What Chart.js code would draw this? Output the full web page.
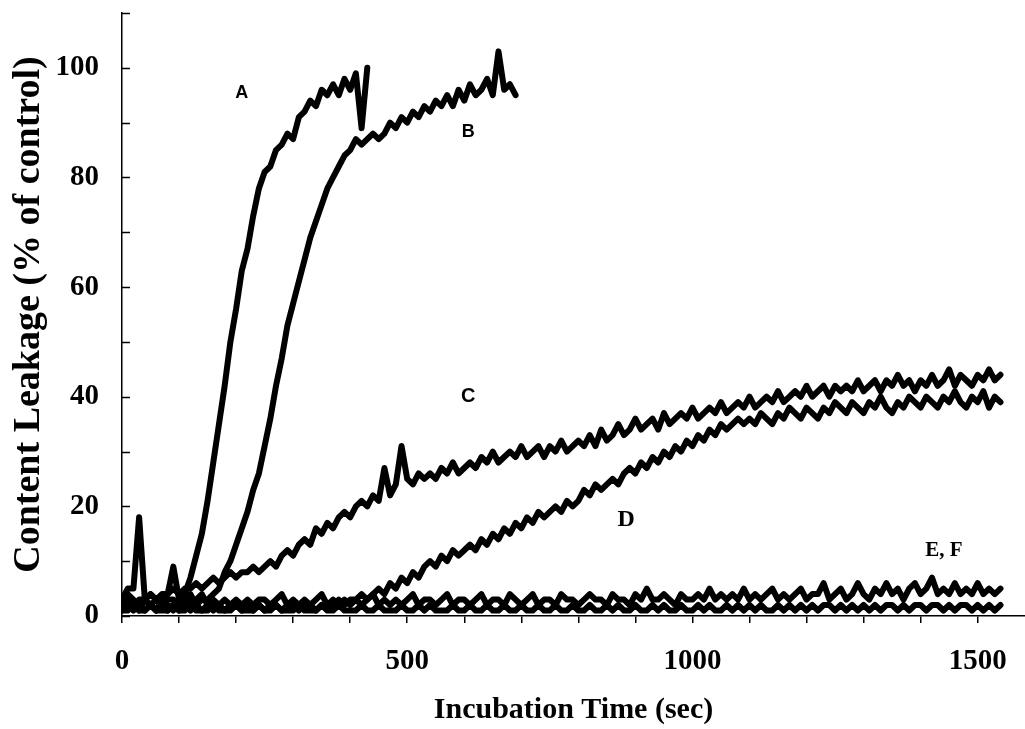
<!DOCTYPE html>
<html>
<head>
<meta charset="utf-8">
<script src="https://cdn.jsdelivr.net/npm/chart.js@4/dist/chart.umd.min.js"></script>
<style>
  html, body { margin: 0; padding: 0; background: #fff; }
  canvas { display: block; }
</style>
</head>
<body>
<canvas id="leak" width="1025" height="729"></canvas>
<script>
// =======================
// Data (one sample per 10 s)
// =======================
const times = [
  0,10,20,30,40,50,60,70,80,90,
  100,110,120,130,140,150,160,170,180,190,
  200,210,220,230,240,250,260,270,280,290,
  300,310,320,330,340,350,360,370,380,390,
  400,410,420,430,440,450,460,470,480,490,
  500,510,520,530,540,550,560,570,580,590,
  600,610,620,630,640,650,660,670,680,690,
  700,710,720,730,740,750,760,770,780,790,
  800,810,820,830,840,850,860,870,880,890,
  900,910,920,930,940,950,960,970,980,990,
  1000,1010,1020,1030,1040,1050,1060,1070,1080,1090,
  1100,1110,1120,1130,1140,1150,1160,1170,1180,1190,
  1200,1210,1220,1230,1240,1250,1260,1270,1280,1290,
  1300,1310,1320,1330,1340,1350,1360,1370,1380,1390,
  1400,1410,1420,1430,1440,1450,1460,1470,1480,1490,
  1500,1510,1520,1530,1540
];

// A: fast leakage, run stops at ~430 s
const seriesA = [
  2,4,3,2,3,4,3,2,4,9,
  3,4,7,11,15,21,28,35,42,50,
  56,63,67,73,78,81,82,85,86,88,
  87,91,92,94,93,96,95,97,95,98,
  96,99,89,100
];

// B: run stops at ~690 s
const seriesB = [
  1,3,2,1,3,2,1,3,2,1,
  3,2,4,2,3,3,4,5,8,10,
  13,16,19,23,26,31,36,42,47,53,
  57,61,65,69,72,75,78,80,82,84,
  85,87,86,87,88,87,88,90,89,91,
  90,92,91,93,92,94,93,95,93,96,
  94,97,95,96,98,95,103,96,97,95
];

const seriesC = [
  2,3,2,3,3,4,3,4,4,5,
  4,5,5,6,5,6,7,6,7,8,
  7,8,8,9,8,9,10,9,11,12,
  11,13,14,13,16,15,17,16,18,19,
  18,20,21,20,22,21,27,22,24,31,
  25,24,26,25,26,25,27,26,28,26,
  27,28,27,29,28,30,28,29,30,29,
  31,29,30,31,29,31,30,32,30,31,
  32,31,33,31,34,32,33,35,33,34,
  36,34,35,36,34,37,35,36,37,36,
  38,36,37,38,37,39,37,38,39,38,
  40,38,39,40,39,41,39,40,41,40,
  42,40,41,42,40,42,41,42,41,43,
  41,42,43,41,43,42,44,42,43,41,
  43,42,44,42,43,45,42,44,43,42,
  44,43,45,43,44
];

const seriesD = [
  1,2,1,2,1,2,1,2,1,2,
  1,2,1,2,1,2,1,2,1,2,
  2,1,2,1,2,1,2,2,1,2,
  2,1,2,2,1,2,2,2,3,2,
  3,3,4,3,4,5,4,6,5,7,
  6,8,7,9,10,9,11,10,12,11,
  12,13,12,14,13,15,14,16,15,17,
  16,18,17,19,18,19,20,19,21,20,
  21,23,22,24,23,24,25,24,26,27,
  26,28,27,29,28,30,29,31,30,32,
  31,33,32,34,33,35,34,35,36,35,
  36,35,37,36,35,37,36,38,37,36,
  38,37,36,38,37,39,38,37,39,38,
  37,39,38,40,38,37,39,38,40,39,
  38,40,39,38,40,39,41,39,38,40,
  39,41,38,40,39
];

const seriesE = [
  3,5,5,18,3,2,3,2,3,3,
  2,3,2,3,4,2,3,2,3,2,
  3,2,3,2,3,3,2,3,4,2,
  3,2,3,2,3,4,2,3,2,3,
  2,3,2,3,4,2,3,2,3,2,
  3,4,2,3,3,2,3,4,2,3,
  3,2,3,4,2,3,3,2,4,3,
  2,3,4,2,3,3,2,4,3,3,
  2,3,4,3,3,2,4,3,3,2,
  4,3,5,3,3,4,3,2,4,3,
  3,4,3,5,3,4,3,4,3,5,
  3,4,3,4,5,3,4,3,4,5,
  3,4,4,6,3,4,5,3,4,6,
  4,3,5,4,6,4,5,3,5,6,
  4,5,7,4,5,4,6,4,5,4,
  6,4,5,4,5
];

const seriesF = [
  1,1,2,1,1,2,1,1,1,2,
  1,1,2,1,1,1,2,1,1,1,
  2,1,1,1,2,1,1,2,1,1,
  1,2,1,1,1,2,1,1,2,1,
  1,1,2,1,1,2,1,1,1,2,
  1,1,2,1,2,1,1,1,2,1,
  1,2,1,1,2,1,1,2,1,1,
  2,1,1,2,1,1,2,1,1,2,
  1,1,2,1,1,2,1,2,1,1,
  2,1,1,2,1,2,1,1,2,1,
  1,2,1,2,1,1,2,1,2,1,
  2,1,2,1,1,2,1,2,1,2,
  1,2,1,2,2,1,2,1,2,1,
  2,1,2,1,2,2,1,2,1,2,
  2,1,2,2,1,2,1,2,2,1,
  2,1,2,1,2
];

// curve letters, placed in data units
const curveLabels = ['A', 'B', 'C', 'D', 'E, F'];
const labelTimes = [210, 607, 607, 884, 1441];
const labelLevels = [95.4, 88.3, 40.1, 17.5, 11.9];

// =======================
// Helpers
// =======================
function toPoints(vals){ return vals.map((v,i)=>({ x: times[i], y: v })); }
function trace(label, vals){
  return { label, data: toPoints(vals), borderColor: '#000', borderWidth: 6,
           pointRadius: 0, tension: 0, borderJoinStyle: 'round', borderCapStyle: 'round', fill: false };
}

const SERIF = '"Liberation Serif", "Times New Roman", serif';
const SANS = '"Liberation Sans", Arial, sans-serif';
const labelFonts = ['bold 18px '+SANS, 'bold 18px '+SANS, 'bold 20px '+SANS,
                    'bold 24px '+SERIF, 'bold 21px '+SERIF];

// inward ticks on the y axis + curve letters
const extras = {
  id: 'extras',
  afterDatasetsDraw(chart){
    const { ctx, scales: { x, y } } = chart;
    ctx.save();
    ctx.strokeStyle = '#000';
    ctx.lineWidth = 1.5;
    y.ticks.forEach(t => {
      const py = Math.round(y.getPixelForValue(t.value)) + 0.5;
      ctx.beginPath(); ctx.moveTo(y.right, py); ctx.lineTo(y.right + 8, py); ctx.stroke();
    });
    ctx.fillStyle = '#000';
    ctx.textAlign = 'center';
    ctx.textBaseline = 'middle';
    curveLabels.forEach((txt,i) => {
      ctx.font = labelFonts[i];
      ctx.fillText(txt, x.getPixelForValue(labelTimes[i]), y.getPixelForValue(labelLevels[i]));
    });
    ctx.restore();
  }
};

// =======================
// Chart
// =======================
Chart.defaults.font.family = SERIF;
Chart.defaults.color = '#000';

new Chart(document.getElementById('leak'), {
  type: 'line',
  data: { datasets: [
    trace('A', seriesA), trace('B', seriesB), trace('C', seriesC),
    trace('D', seriesD), trace('E', seriesE), trace('F', seriesF)
  ] },
  options: {
    responsive: false,
    animation: false,
    devicePixelRatio: 1,
    layout: { padding: { top: 13, left: 0, right: 0, bottom: 0 } },
    plugins: { legend: { display: false }, tooltip: { enabled: false } },
    scales: {
      x: {
        type: 'linear', min: 0, max: 1583,
        afterFit(s){ s.height = 113; s.paddingLeft = 0; s.paddingRight = 0; },
        border: { display: true, color: '#000', width: 1.5 },
        grid: { display: true, drawOnChartArea: false, drawTicks: true, tickLength: 7, color: '#000', lineWidth: 1.5 },
        ticks: {
          stepSize: 100, includeBounds: false, autoSkip: false, maxRotation: 0, padding: 21,
          font: { size: 29, weight: 'bold' },
          callback: v => (v % 500 === 0 ? String(v) : '')
        },
        title: { display: true, text: 'Incubation Time (sec)', font: { size: 30, weight: 'bold' },
                 padding: { top: 0, bottom: 1 } }
      },
      y: {
        min: 0, max: 110,
        afterFit(s){ s.width = 122; s.paddingTop = 0; s.paddingBottom = 0; },
        border: { display: true, color: '#000', width: 1.5 },
        grid: { display: false, drawTicks: false },
        ticks: {
          stepSize: 10, autoSkip: false, padding: 23,
          font: { size: 29, weight: 'bold' },
          callback: v => (v % 20 === 0 && v <= 100 ? String(v) : '')
        },
        title: { display: true, text: 'Content Leakage (% of control)', font: { size: 38, weight: 'bold' },
                 padding: { top: 6, bottom: 0 } }
      }
    }
  },
  plugins: [extras]
});
</script>
</body>
</html>
